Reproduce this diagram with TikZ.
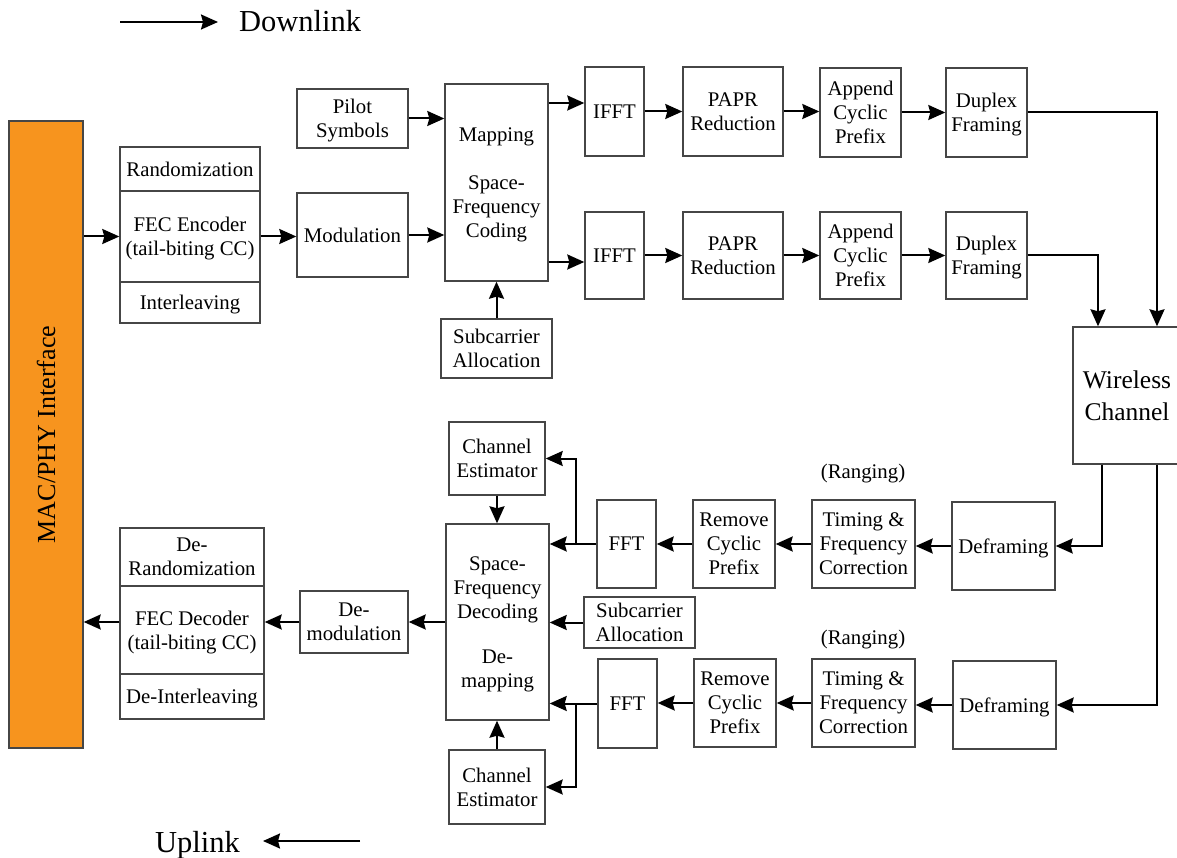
\documentclass[tikz,border=0pt]{standalone}
\usepackage{fontspec}
\setmainfont{Liberation Serif}
\usetikzlibrary{arrows.meta,calc}
\definecolor{macorange}{RGB}{247,148,30}
\definecolor{edgegray}{RGB}{70,70,70}
\newcommand\blockfont{\fontsize{20.8}{24}\selectfont}
\newcommand\bigfont{\fontsize{30.5}{36}\selectfont}
\newcommand\chanfont{\fontsize{25.5}{32}\selectfont}
\newcommand\barfont{\fontsize{26}{30}\selectfont}
\begin{document}
\begin{tikzpicture}[x=1pt,y=-1pt,
  box/.style={draw=edgegray, line width=1.4pt, inner sep=0pt, align=center, text depth=0pt, font=\blockfont},
  sz/.style 2 args={minimum width=#1pt, minimum height=#2pt},
  conn/.style={line width=2pt, -{Stealth[length=17pt,width=15pt,inset=2pt]}},
  legendarrow/.style={line width=2pt, -{Stealth[length=17pt,width=15pt,inset=2pt]}},
  legend/.style={inner sep=0pt, font=\bigfont},
  note/.style={inner sep=0pt, font=\blockfont}]
\useasboundingbox (0,0) rectangle (1177,858);

% legend
\coordinate (dlA) at (120,22);
\coordinate (dlB) at (218,22);
\draw[legendarrow] (dlA) -- (dlB);
\node[legend, anchor=base west] (dl) at (239,32) {Downlink};
\coordinate (ulA) at (360,841);
\coordinate (ulB) at (263,841);
\draw[legendarrow] (ulA) -- (ulB);
\node[legend, anchor=base west] (ul) at (155,852) {Uplink};

% MAC/PHY interface bar
\node[box, sz={74}{627}, fill=macorange, font=\barfont] (bar) at (46,434.5) {\rotatebox{90}{MAC/PHY Interface}};

% transmitter chain
\node[box, sz={140}{44}] (rand) at (190,169) {Randomization};
\node[box, sz={140}{91}] (fec) at (190,236.5) {FEC Encoder\\(tail-biting CC)};
\node[box, sz={140}{41}] (intl) at (190,302.5) {Interleaving};
\node[box, sz={111}{84}] (mod) at (352.5,235) {Modulation};
\node[box, sz={111}{59}] (pilot) at (352.5,118.5) {Pilot\\Symbols};
\node[box, sz={103}{197}] (map) at (496.5,182.5) {Mapping\\[23.5pt]Space-\\Frequency\\Coding};
\node[box, sz={111}{59}] (scaT) at (496.5,348.5) {Subcarrier\\Allocation};
\node[box, sz={59}{89}] (ifftA) at (614.5,111.5) {IFFT};
\node[box, sz={59}{87}] (ifftB) at (614.5,255.5) {IFFT};
\node[box, sz={100}{89}] (paprA) at (733,111.5) {PAPR\\Reduction};
\node[box, sz={100}{87}] (paprB) at (733,255.5) {PAPR\\Reduction};
\node[box, sz={81}{89}] (appA) at (860.5,112.5) {Append\\Cyclic\\Prefix};
\node[box, sz={81}{87}] (appB) at (860.5,255.5) {Append\\Cyclic\\Prefix};
\node[box, sz={81}{89}] (dupA) at (986.5,112.5) {Duplex\\Framing};
\node[box, sz={81}{87}] (dupB) at (986.5,255.5) {Duplex\\Framing};
\node[box, sz={108}{137}, font=\chanfont] (wc) at (1127,395.5) {Wireless\\Channel};

% receiver chain
\node[box, sz={103}{88}] (defrA) at (1003.5,546) {Deframing};
\node[box, sz={103}{88}] (defrB) at (1004.5,705) {Deframing};
\node[box, sz={103}{88}] (timA) at (863.5,544) {Timing \&\\Frequency\\Correction};
\node[box, sz={103}{88}] (timB) at (863.5,703) {Timing \&\\Frequency\\Correction};
\node[note] (rngA) at (863,474) {(Ranging)};
\node[note] (rngB) at (863,640) {(Ranging)};
\node[box, sz={82}{88}] (rcpA) at (734,544) {Remove\\Cyclic\\Prefix};
\node[box, sz={82}{88}] (rcpB) at (735,703) {Remove\\Cyclic\\Prefix};
\node[box, sz={59}{88}] (fftA) at (626.5,544) {FFT};
\node[box, sz={59}{89}] (fftB) at (627.5,703.5) {FFT};
\node[box, sz={111}{51}] (scaR) at (639.5,622.5) {Subcarrier\\Allocation};
\node[box, sz={103}{196}] (dec) at (497.5,622) {Space-\\Frequency\\Decoding\\[21pt]De-\\mapping};
\node[box, sz={96}{73}] (ceA) at (497,458.5) {Channel\\Estimator};
\node[box, sz={96}{74}] (ceB) at (497,787) {Channel\\Estimator};
\node[box, sz={108}{62}] (demod) at (354,622) {De-\\modulation};
\node[box, sz={144}{58}] (drand) at (192,557) {De-\\Randomization};
\node[box, sz={144}{88}] (fecd) at (192,630) {FEC Decoder\\(tail-biting CC)};
\node[box, sz={144}{45}] (dintl) at (192,696.5) {De-Interleaving};

% entry points and branch points
\coordinate (inA) at ([yshift=8.5pt]ifftA.west);
\coordinate (inB) at ([yshift=-6.5pt]ifftB.west);
\coordinate (wcInA) at ([xshift=30pt]wc.north);
\coordinate (wcInB) at ([xshift=-29pt]wc.north);
\coordinate (wcOutA) at ([xshift=-25pt]wc.south);
\coordinate (wcOutB) at ([xshift=30pt]wc.south);
\coordinate (brA) at ([xshift=-20pt]fftA.west);
\coordinate (brB) at ([xshift=-21pt]fftB.west);

% transmitter connections
\draw[conn] (bar.east |- fec.west) -- (fec.west);
\draw[conn] (fec.east) -- (fec.east -| mod.west);
\draw[conn] (pilot.east) -- (pilot.east -| map.west);
\draw[conn] (mod.east) -- (mod.east -| map.west);
\draw[conn] (scaT.north) -- (scaT.north |- map.south);
\draw[conn] (map.east |- inA) -- (inA);
\draw[conn] (map.east |- inB) -- (inB);
\draw[conn] (ifftA.east) -- (ifftA.east -| paprA.west);
\draw[conn] (ifftB.east) -- (ifftB.east -| paprB.west);
\draw[conn] (paprA.east) -- (paprA.east -| appA.west);
\draw[conn] (paprB.east) -- (paprB.east -| appB.west);
\draw[conn] (appA.east) -- (appA.east -| dupA.west);
\draw[conn] (appB.east) -- (appB.east -| dupB.west);
\draw[conn] (dupA.east) -| (wcInA);
\draw[conn] (dupB.east) -| (wcInB);

% receiver connections
\draw[conn] (wcOutA) |- (defrA.east);
\draw[conn] (wcOutB) |- (defrB.east);
\draw[conn] (defrA.west) -- (defrA.west -| timA.east);
\draw[conn] (defrB.west) -- (defrB.west -| timB.east);
\draw[conn] (timA.west) -- (timA.west -| rcpA.east);
\draw[conn] (timB.west) -- (timB.west -| rcpB.east);
\draw[conn] (rcpA.west) -- (rcpA.west -| fftA.east);
\draw[conn] (rcpB.west) -- (rcpB.west -| fftB.east);
\draw[conn] (fftA.west) -- (fftA.west -| dec.east);
\draw[conn] (fftB.west) -- (fftB.west -| dec.east);
\draw[conn] (brA) |- (ceA.east);
\draw[conn] (brB) |- (ceB.east);
\draw[conn] (scaR.west) -- (scaR.west -| dec.east);
\draw[conn] (ceA.south) -- (ceA.south |- dec.north);
\draw[conn] (ceB.north) -- (ceB.north |- dec.south);
\draw[conn] (dec.west) -- (dec.west -| demod.east);
\draw[conn] (demod.west) -- (demod.west -| fecd.east);
\draw[conn] (fecd.west |- demod.west) -- (bar.east |- demod.west);
\end{tikzpicture}
\end{document}
